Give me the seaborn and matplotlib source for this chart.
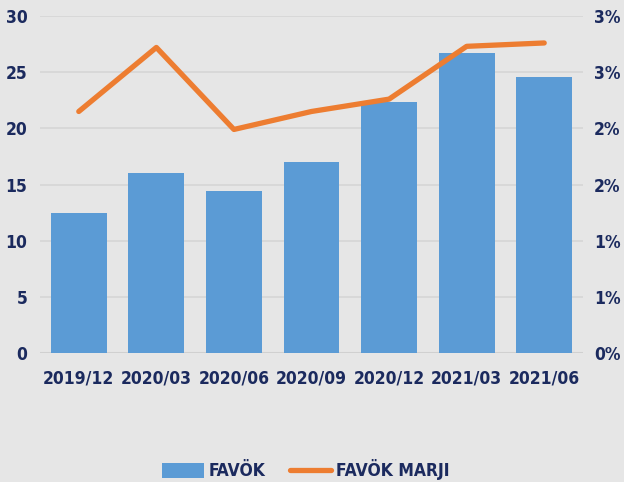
import math

import matplotlib
matplotlib.use("Agg")
import matplotlib.pyplot as plt
import matplotlib.ticker as mticker
import numpy as np
import pandas as pd
import seaborn as sns
from matplotlib.lines import Line2D
from matplotlib.patches import Patch

periods = ["2019/12", "2020/03", "2020/06", "2020/09", "2020/12", "2021/03", "2021/06"]
favok = [12.5, 16.0, 14.4, 17.0, 22.3, 26.7, 24.6]
favok_marji = [2.15, 2.72, 1.99, 2.15, 2.26, 2.73, 2.76]

BG = "#e6e6e6"
BLUE = "#5b9bd5"
ORANGE = "#ed7d31"
NAVY = "#1b2a5e"

sns.set_theme(style="white")
plt.rcParams["font.family"] = ["DejaVu Sans"]
plt.rcParams["font.stretch"] = "condensed"
plt.rcParams["font.weight"] = "bold"

df = pd.DataFrame({"period": periods, "favok": favok, "marji": favok_marji})
df["pos"] = np.arange(len(df))

fig = plt.figure(figsize=(6.24, 4.82), dpi=100, facecolor=BG)
ax = fig.add_axes([40 / 624, 1 - 353 / 482, (583 - 40) / 624, (353 - 16) / 482])
ax.set_facecolor(BG)

sns.barplot(data=df, x="period", y="favok", color=BLUE, saturation=1, width=0.72,
            linewidth=0, edgecolor="none", ax=ax, zorder=2)
ax.set_ylim(0, 30)
ax.set_yticks(range(0, 31, 5))
ax.set_xlim(-0.5, len(df) - 0.5)
ax.grid(axis="y", color="#d6d6d6", linewidth=1.2, zorder=0)
ax.set_axisbelow(True)
ax.set_xlabel("")
ax.set_ylabel("")
for s in ax.spines.values():
    s.set_visible(False)
ax.axhline(0, color="#d0d0d0", linewidth=1.5, zorder=1)

ax2 = ax.twinx()
sns.lineplot(data=df, x="pos", y="marji", color=ORANGE, linewidth=3.8, ax=ax2,
             solid_capstyle="round", zorder=3)
ax2.set_ylim(0, 3)
ax2.set_yticks(np.arange(0, 3.01, 0.5))
ax2.yaxis.set_major_formatter(mticker.FuncFormatter(lambda v, p: f"{int(math.floor(v + 0.5))}%"))
ax2.set_xlim(-0.5, len(df) - 0.5)
ax2.set_ylabel("")
for s in ax2.spines.values():
    s.set_visible(False)

for a in (ax, ax2):
    a.tick_params(axis="both", length=0, colors=NAVY, labelsize=12.5)
    for lab in a.get_xticklabels() + a.get_yticklabels():
        lab.set_fontweight("bold")
ax.tick_params(axis="x", pad=12)
ax.tick_params(axis="y", pad=9)
ax2.tick_params(axis="y", pad=8)

handles = [Patch(facecolor=BLUE, edgecolor="none"),
           Line2D([0], [0], color=ORANGE, linewidth=3.8)]
fig.legend(handles, ["FAVÖK", "FAVÖK MARJI"], loc="center", bbox_to_anchor=(0.49, 1 - 470 / 482),
           ncol=2, frameon=False, handlelength=2.4, handleheight=0.9, columnspacing=1.4,
           handletextpad=0.25, labelcolor=NAVY,
           prop={"weight": "bold", "size": 12.5, "stretch": "condensed"})

fig.savefig("out.png", dpi=100, facecolor=BG)
